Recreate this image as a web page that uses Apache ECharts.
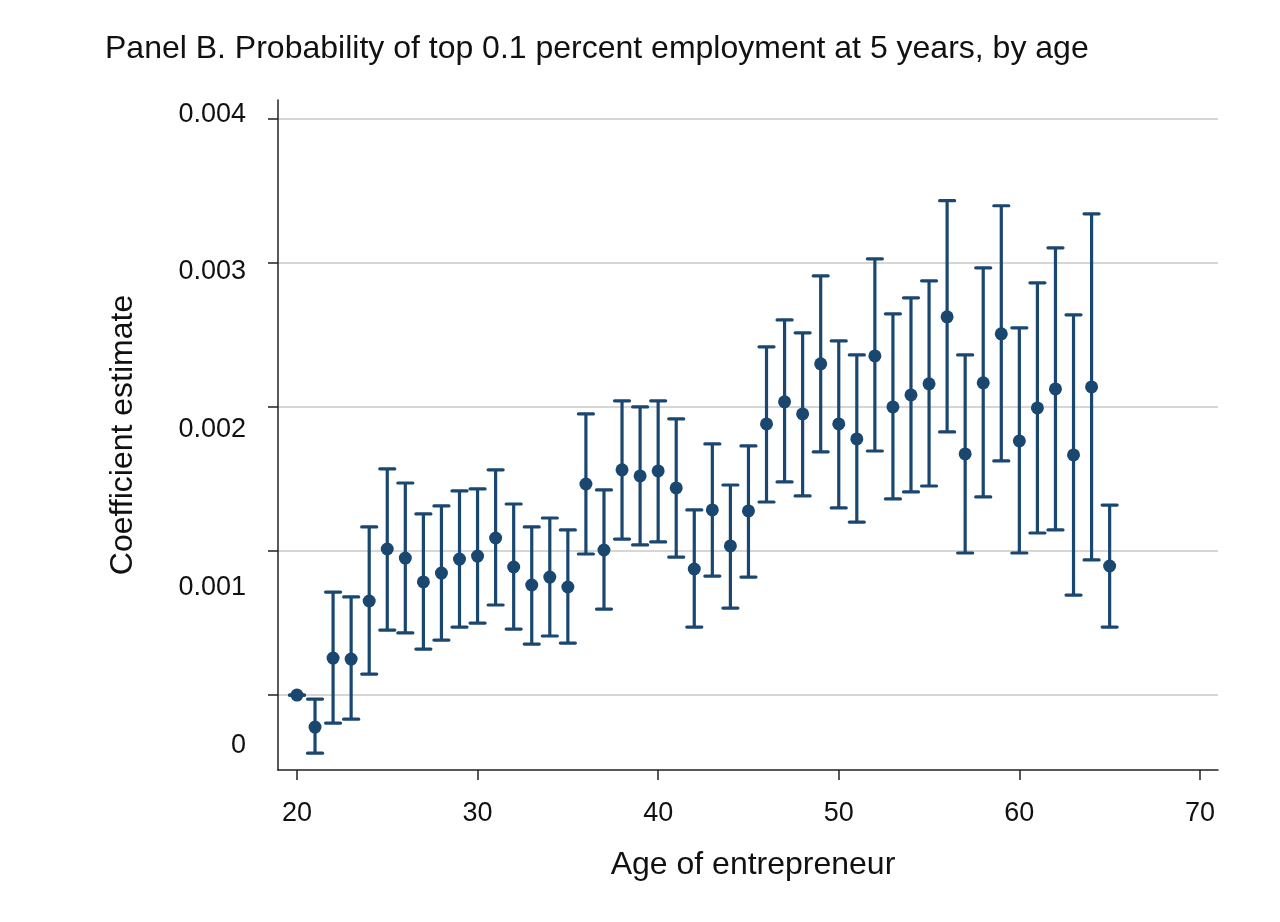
<!DOCTYPE html>
<html>
<head>
<meta charset="utf-8">
<script src="https://cdn.jsdelivr.net/npm/echarts@6/dist/echarts.min.js"></script>
<style>
  html, body { margin: 0; padding: 0; background: #fff; }
  #chart { width: 1280px; height: 922px; }
</style>
</head>
<body>
<div id="chart"></div>
<script>
// ---- Data ----
const ages = [20,21,22,23,24,25,26,27,28,29,30,31,32,33,34,35,36,37,38,39,40,41,42,43,44,45,46,47,48,49,50,51,52,53,54,55,56,57,58,59,60,61,62,63,64,65];
const estimates = [0,-0.000222,0.000257,0.00025,0.000653,0.001014,0.000951,0.000785,0.000847,0.000944,0.000965,0.00109,0.000889,0.000764,0.000819,0.00075,0.001465,0.001007,0.001563,0.001521,0.001556,0.001438,0.000875,0.001285,0.001035,0.001278,0.001882,0.002035,0.001951,0.002299,0.001882,0.001778,0.002354,0.002,0.002083,0.00216,0.002625,0.001674,0.002167,0.002507,0.001764,0.001993,0.002125,0.001667,0.002139,0.000896];
const ciLower = [0,-0.000403,-0.000194,-0.000167,0.000146,0.000451,0.000431,0.000319,0.000382,0.000472,0.0005,0.000625,0.000458,0.000354,0.00041,0.000361,0.000979,0.000597,0.001083,0.001042,0.001063,0.000958,0.000472,0.000826,0.000604,0.000819,0.00134,0.001479,0.001382,0.001688,0.001299,0.001201,0.001694,0.001361,0.00141,0.001451,0.001826,0.000986,0.001375,0.001625,0.000986,0.001125,0.001146,0.000694,0.000938,0.000472];
const ciUpper = [0,-0.000028,0.000715,0.000681,0.001167,0.00157,0.001472,0.001257,0.001313,0.001417,0.001431,0.001563,0.001326,0.001167,0.001229,0.001146,0.001951,0.001424,0.002042,0.002,0.002042,0.001917,0.001285,0.001743,0.001458,0.001729,0.002417,0.002604,0.002514,0.00291,0.002458,0.002361,0.003028,0.002646,0.002757,0.002875,0.003431,0.002361,0.002965,0.003396,0.002549,0.002861,0.003104,0.002639,0.00334,0.001319];
const xTicks = [20,30,40,50,60,70];
const yTicks = [0,0.001,0.002,0.003,0.004];
const yTickLabels = ['0','0.001','0.002','0.003','0.004'];
const yLabelSlots = [0,1,2,3,4];

const titleText = 'Panel B. Probability of top 0.1 percent employment at 5 years, by age';
const xName = 'Age of entrepreneur';
const yName = 'Coefficient estimate';

const navy = '#1a476f';
const font = '"Liberation Sans", Arial, Helvetica, sans-serif';

const ciData = ages.map((a, i) => [a, ciLower[i], ciUpper[i]]);
const pointData = ages.map((a, i) => [a, estimates[i]]);

const chart = echarts.init(document.getElementById('chart'), null, { renderer: 'canvas' });

chart.setOption({
  backgroundColor: '#ffffff',
  animation: false,
  textStyle: { fontFamily: font },
  title: {
    text: titleText,
    left: 105,
    top: 33,
    padding: 0,
    textStyle: { fontSize: 32, fontWeight: 'normal', color: '#111', fontFamily: font }
  },
  grid: { left: 278, right: 62, top: 100, bottom: 152, containLabel: false, outerBoundsMode: 'none' },
  xAxis: {
    type: 'value',
    min: 18.95,
    max: 71,
    name: xName,
    nameLocation: 'middle',
    nameGap: 79,
    nameTextStyle: { fontSize: 32, color: '#111', fontFamily: font, padding: [0, 0, 0, 10] },
    axisLine: { show: true, onZero: false, lineStyle: { color: '#222', width: 1.5 } },
    axisTick: { show: true, inside: false, length: 10, customValues: xTicks, lineStyle: { color: '#222', width: 1.5 } },
    axisLabel: { show: true, customValues: xTicks, margin: 30, fontSize: 27, color: '#111', fontFamily: font },
    splitLine: { show: false }
  },
  yAxis: [
    {
      type: 'value',
      min: -0.00052,
      max: 0.00413,
      position: 'left',
      name: yName,
      nameLocation: 'middle',
      nameGap: 139,
      nameTextStyle: { fontSize: 32, color: '#111', fontFamily: font },
      axisLine: { show: true, onZero: false, lineStyle: { color: '#222', width: 1.5 } },
      axisTick: { show: true, inside: false, length: 10, customValues: yTicks, lineStyle: { color: '#222', width: 1.5 } },
      axisLabel: { show: false, customValues: yTicks },
      splitLine: { show: true, lineStyle: { color: '#c8c8c8', width: 1.5 } }
    },
    {
      type: 'value',
      min: -0.152,
      max: 4.089,
      position: 'left',
      offset: 0,
      axisLine: { show: false, onZero: false },
      axisTick: { show: false },
      splitLine: { show: false },
      axisLabel: {
        show: true,
        customValues: yLabelSlots,
        margin: 32,
        fontSize: 27,
        color: '#111',
        fontFamily: font,
        formatter: function (v) {
          const i = yLabelSlots.indexOf(Math.round(v));
          return i >= 0 ? yTickLabels[i] : '';
        }
      }
    }
  ],
  series: [
    {
      type: 'custom',
      yAxisIndex: 0,
      data: ciData,
      encode: { x: 0, y: [1, 2] },
      z: 2,
      renderItem: function (params, api) {
        const x = api.value(0);
        const pLo = api.coord([x, api.value(1)]);
        const pHi = api.coord([x, api.value(2)]);
        const hw = 7.5;
        const st = { stroke: navy, lineWidth: 3.2, lineCap: 'round' };
        return {
          type: 'group',
          children: [
            { type: 'line', shape: { x1: pLo[0], y1: pLo[1], x2: pHi[0], y2: pHi[1] }, style: { stroke: navy, lineWidth: 3.2 } },
            { type: 'line', shape: { x1: pHi[0] - hw, y1: pHi[1], x2: pHi[0] + hw, y2: pHi[1] }, style: st },
            { type: 'line', shape: { x1: pLo[0] - hw, y1: pLo[1], x2: pLo[0] + hw, y2: pLo[1] }, style: st }
          ]
        };
      }
    },
    {
      type: 'scatter',
      yAxisIndex: 0,
      data: pointData,
      symbol: 'circle',
      symbolSize: 13,
      itemStyle: { color: navy, opacity: 1 },
      z: 3
    }
  ]
});
</script>
</body>
</html>
